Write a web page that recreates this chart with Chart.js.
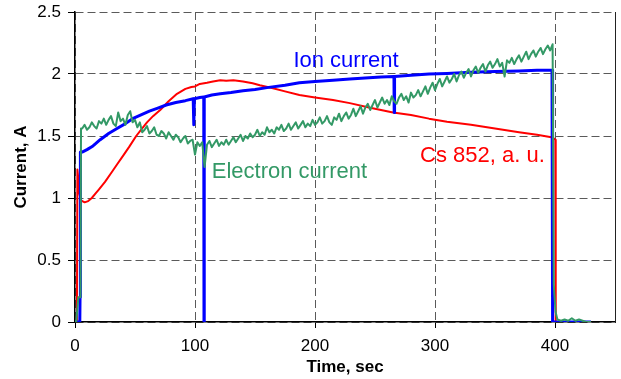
<!DOCTYPE html>
<html>
<head>
<meta charset="utf-8">
<script src="https://cdn.jsdelivr.net/npm/chart.js@4/dist/chart.umd.min.js"></script>
<style>
  html, body { margin: 0; padding: 0; background: #fff; }
  canvas { display: block; }
</style>
</head>
<body>
<canvas id="chart" width="621" height="379"></canvas>
<script>
// axis ticks
const xTicks = [0, 100, 200, 300, 400];
const yTicks = [0, 0.5, 1, 1.5, 2, 2.5];

// Ion current, A
const ionTimes = [0, 4, 4.2, 4.5, 6, 10, 15, 21, 28, 35, 42, 48, 55, 62, 69, 76, 84, 92, 98.5, 99, 99.5,
  104, 107.3, 107.5, 107.7, 114, 121, 130, 140, 150, 160, 175, 187, 200, 215, 229, 245, 255, 265.8, 266, 266.3,
  280, 295, 310, 330, 350, 370, 385, 397.5, 398, 430];
const ionValues = [0, 0, 0.2, 1.37, 1.37, 1.39, 1.42, 1.47, 1.52, 1.56, 1.6, 1.64, 1.67, 1.7, 1.725, 1.75, 1.77, 1.785, 1.8, 1.59, 1.8,
  1.81, 1.815, 0, 1.815, 1.83, 1.84, 1.85, 1.865, 1.875, 1.89, 1.91, 1.93, 1.94, 1.95, 1.96, 1.97, 1.975, 1.98, 1.69, 1.98,
  1.99, 2.0, 2.005, 2.015, 2.02, 2.025, 2.03, 2.03, 0, 0];

// Cs 852 signal, a. u.
const csTimes = [0, 1.6, 2, 2.6, 3.5, 5, 8, 11, 14, 17, 20, 25, 30, 35, 40, 45, 51, 55, 60, 65, 71, 78, 85, 92, 97, 100,
  104, 110, 115, 121, 126, 132, 140, 148, 154, 165, 175, 187, 200, 215, 229, 245, 265, 280, 295, 310, 330, 350, 370, 385,
  397, 399, 400.3, 400.6, 430];
const csValues = [0, 0, 1.23, 1.17, 1.04, 0.98, 0.965, 0.975, 1.0, 1.035, 1.07, 1.13, 1.2, 1.27, 1.34, 1.41, 1.5, 1.55, 1.61, 1.66, 1.71, 1.78, 1.84, 1.88, 1.895, 1.9,
  1.92, 1.93, 1.94, 1.95, 1.945, 1.95, 1.94, 1.925, 1.91, 1.885, 1.86, 1.83, 1.81, 1.79, 1.765, 1.73, 1.69, 1.67, 1.64, 1.615, 1.59, 1.56, 1.53, 1.51,
  1.49, 1.48, 1.47, 0, 0];

// Electron current, A: switch-on, sampled run (every 2 s from 6 s), switch-off
const elecHeadTimes = [0, 1, 2.8, 4.6, 5];
const elecHeadValues = [0, 0, 0.2, 0.2, 1.56];
const elecStart = 6;
const elecStep = 2;
const elecValues = [
  1.56, 1.59, 1.55, 1.57, 1.61, 1.58, 1.56, 1.62, 1.60, 1.64,
  1.59, 1.63, 1.66, 1.60, 1.58, 1.69, 1.62, 1.64, 1.59, 1.67,
  1.70, 1.61, 1.63, 1.57, 1.61, 1.53, 1.55, 1.58, 1.52, 1.54,
  1.57, 1.51, 1.50, 1.54, 1.52, 1.48, 1.53, 1.50, 1.47, 1.51,
  1.49, 1.45, 1.48, 1.50, 1.44, 1.46, 1.47, 1.35, 1.45, 1.42,
  1.45, 1.25, 1.43, 1.46, 1.41, 1.44, 1.47, 1.42, 1.45, 1.43,
  1.47, 1.43, 1.46, 1.49, 1.45, 1.48, 1.51, 1.46, 1.50, 1.48,
  1.52, 1.49, 1.51, 1.55, 1.50, 1.53, 1.51, 1.57, 1.53, 1.55,
  1.52, 1.57, 1.55, 1.59, 1.54, 1.56, 1.60, 1.55, 1.58, 1.61,
  1.56, 1.59, 1.62, 1.57, 1.60, 1.58, 1.63, 1.59, 1.61, 1.65,
  1.60, 1.62, 1.66, 1.61, 1.59, 1.65, 1.63, 1.68, 1.62, 1.66,
  1.69, 1.64, 1.67, 1.72, 1.66, 1.70, 1.74, 1.68, 1.73, 1.76,
  1.71, 1.75, 1.79, 1.73, 1.77, 1.81, 1.76, 1.79, 1.75, 1.82,
  1.78, 1.76, 1.81, 1.84, 1.79, 1.82, 1.77, 1.85, 1.81, 1.83,
  1.87, 1.82, 1.86, 1.90, 1.84, 1.89, 1.93, 1.87, 1.92, 1.96,
  1.90, 1.94, 1.98, 1.93, 1.96, 2.00, 1.94, 1.99, 2.02, 1.97,
  2.01, 2.04, 1.98, 2.03, 2.06, 2.01, 2.05, 2.08, 2.02, 2.07,
  2.10, 2.05, 2.08, 2.12, 2.06, 2.09, 1.98, 2.11, 2.09, 2.13,
  2.08, 2.12, 2.15, 2.10, 2.14, 2.18, 2.12, 2.16, 2.19, 2.14,
  2.18, 2.21, 2.16, 2.20, 2.23, 2.19, 2.24
];
const elecTailTimes = [399, 399.5, 400.5, 402, 405, 408, 411, 414, 417, 420, 423, 426, 430];
const elecTailValues = [0.3, 0.22, 0.08, 0.02, 0.01, 0.02, 0.01, 0.03, 0.01, 0.02, 0.01, 0, 0];

// in-plot labels, anchored in data units
const labels = [
  { text: 'Ion current', x: 182, y: 2.06, color: '#0000ff' },
  { text: 'Electron current', x: 114, y: 1.16, color: '#339966' },
  { text: 'Cs 852, a. u.', x: 287.5, y: 1.29, color: '#ff0000' },
];

const FONT = '"Liberation Sans", Arial, sans-serif';

function toPoints(times, values) {
  return times.map((t, i) => ({ x: t, y: values[i] }));
}

const elecTimes = elecValues.map((_, i) => elecStart + i * elecStep);
const elecPoints = toPoints(elecHeadTimes, elecHeadValues)
  .concat(toPoints(elecTimes, elecValues))
  .concat(toPoints(elecTailTimes, elecTailValues));

const textLabels = {
  id: 'textLabels',
  afterDatasetsDraw(chart) {
    const { ctx, scales } = chart;
    ctx.save();
    ctx.font = '22px ' + FONT;
    ctx.textAlign = 'left';
    ctx.textBaseline = 'alphabetic';
    for (const l of labels) {
      ctx.fillStyle = l.color;
      ctx.fillText(l.text, scales.x.getPixelForValue(l.x), scales.y.getPixelForValue(l.y));
    }
    ctx.restore();
  },
};

// keep the plot box where the layout padding puts it
function noEdgePadding(s) {
  s.paddingTop = 0;
  s.paddingBottom = 0;
  s.paddingLeft = 0;
  s.paddingRight = 0;
}

Chart.defaults.font.family = FONT;
Chart.defaults.color = '#000';

new Chart(document.getElementById('chart'), {
  type: 'scatter',
  data: {
    datasets: [
      {
        label: 'Electron current',
        data: elecPoints,
        borderColor: '#339966',
        borderWidth: 2,
      },
      {
        label: 'Ion current',
        data: toPoints(ionTimes, ionValues),
        borderColor: '#0000ff',
        borderWidth: 3,
      },
      {
        label: 'Cs 852, a. u.',
        data: toPoints(csTimes, csValues),
        borderColor: '#ff0000',
        borderWidth: 2,
      },
    ],
  },
  options: {
    responsive: false,
    animation: false,
    showLine: true,
    elements: {
      point: { radius: 0, hoverRadius: 0 },
      line: { tension: 0, borderJoinStyle: 'round' },
    },
    layout: { padding: { top: 12, left: 0, right: 0, bottom: 0 } },
    plugins: {
      legend: { display: false },
      tooltip: { enabled: false },
    },
    scales: {
      x: {
        type: 'linear',
        position: 'bottom',
        min: 0,
        max: 450,
        afterBuildTicks: (s) => { s.ticks = xTicks.map(v => ({ value: v })); },
        afterFit: (s) => { s.height = 57; noEdgePadding(s); },
        ticks: { font: { size: 17 }, padding: 8, maxRotation: 0, callback: (v) => String(v) },
        grid: { color: '#5a5a5a', lineWidth: 1, tickLength: 6, tickColor: '#000' },
        border: { color: '#000', width: 1.5, dash: [8, 4] },
        title: {
          display: true,
          text: 'Time, sec',
          font: { size: 17, weight: 'bold' },
          padding: { top: 0, bottom: 1 },
        },
      },
      y: {
        type: 'linear',
        position: 'left',
        min: 0,
        max: 2.5,
        afterBuildTicks: (s) => { s.ticks = yTicks.map(v => ({ value: v })); },
        afterFit: (s) => { s.width = 75; noEdgePadding(s); },
        ticks: { font: { size: 17 }, padding: 7, callback: (v) => String(v) },
        grid: { color: '#5a5a5a', lineWidth: 1, tickLength: 7, tickColor: '#000' },
        border: { color: '#000', width: 1.5, dash: [8, 4] },
        title: {
          display: true,
          text: 'Current, A',
          font: { size: 17, weight: 'bold' },
          padding: { top: 11, bottom: 0 },
        },
      },
      yRight: {
        type: 'linear',
        position: 'right',
        min: 0,
        max: 2.5,
        afterFit: (s) => { s.width = 6; noEdgePadding(s); },
        ticks: { display: false },
        grid: { display: false },
        border: { color: '#222', width: 1 },
      },
    },
  },
  plugins: [textLabels],
});
</script>
</body>
</html>
